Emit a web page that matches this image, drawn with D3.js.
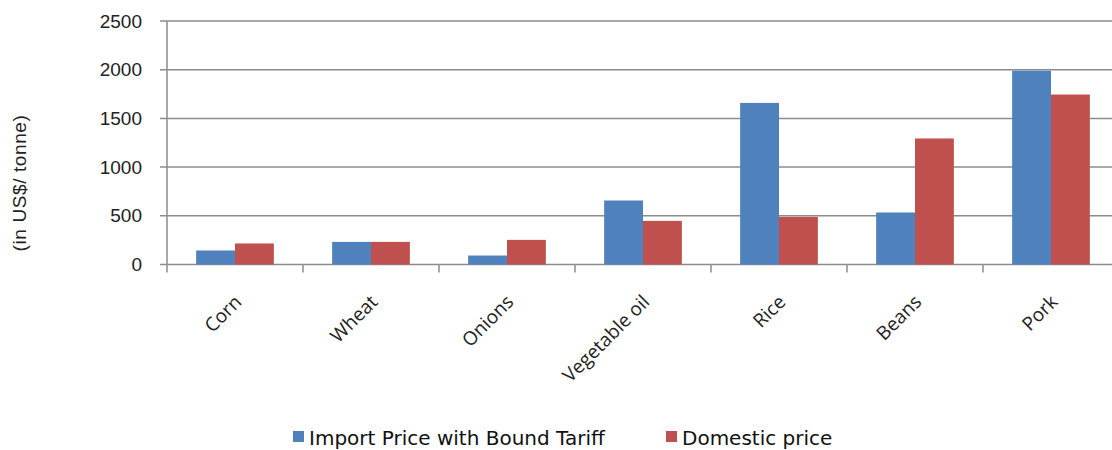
<!DOCTYPE html>
<html><head><meta charset="utf-8">
<script src="https://cdn.jsdelivr.net/npm/d3@7"></script>
<style>body{margin:0;background:#fff}svg{display:block}</style>
</head><body>
<svg id="c" width="1112" height="450"></svg>
<script>
const categories = ["Corn","Wheat","Onions","Vegetable oil","Rice","Beans","Pork"];
const importPrice = [144, 232, 92, 657, 1659, 534, 1990];
const domesticPrice = [216, 232, 253, 448, 489, 1294, 1745];
const seriesNames = ["Import Price with Bound Tariff","Domestic price"];
const yTicks = [0,500,1000,1500,2000,2500];
const colors = ["#4F81BD","#C0504D"];

(function(){
const svg = d3.select("#c");
const pL = 167, pR = 1119, pT = 21, pB = 264.5;
const x = d3.scaleBand().domain(categories).range([pL, pR]).paddingInner(0).paddingOuter(0);
const y = d3.scaleLinear().domain([0,2500]).range([pB, pT]);
const grid = "#8c8c8c";

svg.append("g").selectAll("line").data(yTicks).join("line")
  .attr("x1", pL-7).attr("x2", 1112).attr("y1", d=>y(d)).attr("y2", d=>y(d))
  .attr("stroke", grid).attr("stroke-width", 1.5);
svg.append("line").attr("x1", pL).attr("x2", pL).attr("y1", pT).attr("y2", pB+8)
  .attr("stroke", grid).attr("stroke-width", 1.5);
svg.append("g").selectAll("line").data(categories).join("line")
  .attr("x1", d=>x(d)+x.bandwidth()).attr("x2", d=>x(d)+x.bandwidth())
  .attr("y1", pB).attr("y2", pB+8).attr("stroke", grid).attr("stroke-width", 1.5);

const bw = x.bandwidth()/(2+1.5);
const data = categories.map((c,i)=>({c, v:[importPrice[i], domesticPrice[i]]}));
const g = svg.append("g");
data.forEach(d=>{
  d.v.forEach((v,j)=>{
    const x0 = x(d.c) + x.bandwidth()/2 - bw + j*bw;
    g.append("rect").attr("x", x0).attr("width", bw)
      .attr("y", y(v)).attr("height", y(0)-y(v)).attr("fill", colors[j]);
  });
});

svg.append("g").selectAll("text").data(yTicks).join("text")
  .attr("x", 142).attr("y", d=>y(d)).attr("dy","0.35em").attr("text-anchor","end")
  .attr("font-family","Liberation Sans, Arial, sans-serif").attr("font-size",19).attr("fill","#222")
  .text(d=>d);

svg.append("text").attr("transform","translate(26,183) rotate(-90)").attr("text-anchor","middle")
  .attr("font-family","Liberation Sans, Arial, sans-serif").attr("font-size",19).attr("letter-spacing",0.6).attr("fill","#222")
  .text("(in US$/ tonne)");

svg.append("g").selectAll("text").data(categories).join("text")
  .attr("transform", d=>`translate(${x(d)+x.bandwidth()/2+3},${pB+34}) rotate(-45)`)
  .attr("text-anchor","end").attr("dy","0.35em")
  .attr("font-family","Open Sans, sans-serif").attr("font-size",19).attr("fill","#222")
  .text(d=>d);

const legX = [293, 666];
seriesNames.forEach((n,i)=>{
  svg.append("rect").attr("x", legX[i]).attr("y", 431).attr("width", 11).attr("height", 11).attr("fill", colors[i]);
  svg.append("text").attr("x", legX[i]+16).attr("y", 445)
    .attr("font-family","DejaVu Sans, sans-serif").attr("font-size",20).attr("fill","#111")
    .text(n);
});
})();
</script>
</body></html>
